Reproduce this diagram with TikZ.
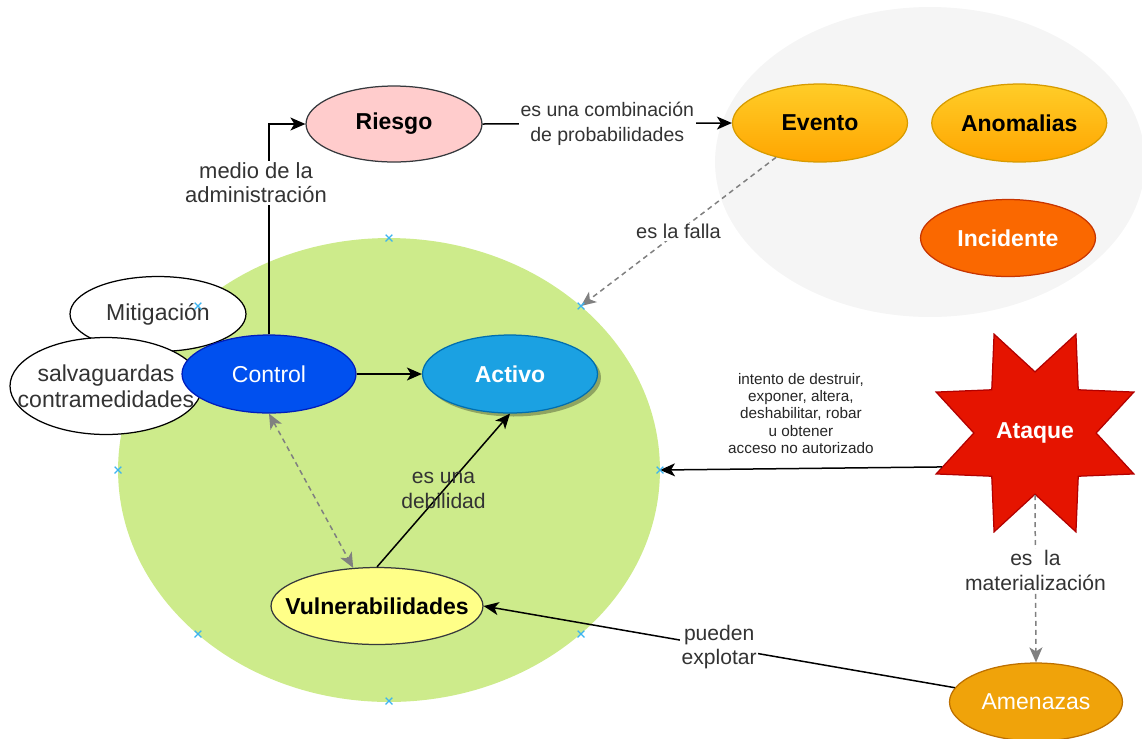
\documentclass[tikz,border=0pt]{standalone}
\usepackage{fontspec}
\setmainfont{Liberation Sans}
\usetikzlibrary{positioning,calc,shapes.geometric,shapes.misc,arrows.meta,shadows}
\definecolor{riesgopink}{RGB}{255, 204, 204}
\definecolor{darkborder}{RGB}{54, 57, 61}
\definecolor{eventotop}{RGB}{255, 205, 40}
\definecolor{eventobottom}{RGB}{255, 165, 0}
\definecolor{eventoborder}{RGB}{215, 155, 0}
\definecolor{incidenteorange}{RGB}{250, 104, 0}
\definecolor{incidenteborder}{RGB}{199, 53, 0}
\definecolor{controlblue}{RGB}{0, 80, 239}
\definecolor{controlborder}{RGB}{0, 29, 188}
\definecolor{activoblue}{RGB}{27, 161, 226}
\definecolor{activoborder}{RGB}{0, 110, 175}
\definecolor{vulnyellow}{RGB}{255, 255, 136}
\definecolor{ataquered}{RGB}{229, 20, 0}
\definecolor{ataqueborder}{RGB}{178, 0, 0}
\definecolor{amenazasorange}{RGB}{240, 163, 10}
\definecolor{amenazasborder}{RGB}{189, 112, 0}
\definecolor{zonegreen}{RGB}{205, 235, 139}
\definecolor{zonegray}{RGB}{245, 245, 245}
\definecolor{dashgray}{RGB}{128, 128, 128}
\definecolor{markblue}{RGB}{60, 180, 240}

\begin{document}
\begin{tikzpicture}[x=0.02cm, y=-0.02cm,
oval/.style={ellipse, line width=0.25mm, inner sep=0pt, align=center, minimum width=3.5cm, minimum height=1.56cm, font=\fontsize{13.1}{14.8}\selectfont},
white_oval/.style={oval, draw=black, fill=white, text=black!80},
bold_oval/.style={oval, font=\fontsize{13.1}{14.8}\selectfont\bfseries},
evento_node/.style={bold_oval, draw=eventoborder, top color=eventotop, bottom color=eventobottom},
zone_node/.style={ellipse, inner sep=0pt},
arrow/.style={-{Stealth[length=0.3cm, width=0.26cm, inset=0.08cm]}, line width=0.3mm},
dash_arrow/.style={arrow, draw=dashgray, dash pattern=on 0.1cm off 0.08cm},
dash_arrow_both/.style={dash_arrow, {Stealth[length=0.3cm, width=0.26cm, inset=0.08cm]}-{Stealth[length=0.3cm, width=0.26cm, inset=0.08cm]}},
edge_label/.style={fill=white, inner sep=1pt, align=center, text=black!80, font=\fontsize{12}{14}\selectfont},
small_label/.style={align=center, inner sep=1pt, text=black!85, font=\fontsize{8.7}{9.85}\selectfont},
conn_mark/.style={cross out, draw=markblue, line width=0.25mm, minimum size=0.11cm, inner sep=0pt}
]
\useasboundingbox (0,0) rectangle (1142,738);

%Zones
\node[zone_node, fill=zonegray, minimum width=8.6cm, minimum height=6.2cm] 	(event_zone) at (930,162) {};
\node[zone_node, fill=zonegreen, minimum width=10.84cm, minimum height=9.28cm] 	(zone) at (389,470) {};
\coordinate (zone_ne) at (581,306);
\coordinate (zone_e) at (660,470);

%Nodes top
\node[bold_oval, draw=darkborder, fill=riesgopink, minimum width=3.52cm, minimum height=1.52cm] 	(riesgo) at (394,124) {Riesgo};
\node[evento_node] 														(evento) at (820,123) {Evento};
\node[evento_node] 														(anomalias) [right=0.46cm of evento] {Anomalias};
\node[bold_oval, draw=incidenteborder, fill=incidenteorange, text=white, minimum height=1.54cm] 	(incidente) at (1008,238) {Incidente};

%Nodes left
\node[white_oval, minimum width=3.52cm, minimum height=1.5cm] 				(mitigacion) at (158,314) {Mitigación};
\node[white_oval, minimum width=3.84cm, minimum height=1.94cm, inner xsep=-0.5cm] 	(salvaguardas) at (106,386) {salvaguardas\\contramedidades};
\node[oval, draw=controlborder, fill=controlblue, text=white, minimum width=3.48cm] 	(control) at (269,374) {Control};
\node[bold_oval, draw=activoborder, fill=activoblue, text=white, drop shadow={shadow xshift=0.07cm, shadow yshift=-0.07cm, fill=black, opacity=0.3}] 	(activo) at (510,374) {Activo};
\node[bold_oval, draw=darkborder, fill=vulnyellow, minimum width=4.24cm, minimum height=1.54cm, inner xsep=-0.5cm] 	(vulnerabilidades) at (377,606) {Vulnerabilidades};

%Nodes right
\node[star, star points=8, star point ratio=1.75, shape border rotate=22.5, minimum size=4.28cm, inner sep=0pt, draw=ataqueborder, line width=0.25mm, fill=ataquered, text=white, font=\fontsize{13.1}{14.8}\selectfont\bfseries] 	(ataque) at (1035,433) {Ataque};
\node[oval, draw=amenazasborder, fill=amenazasorange, text=white, minimum width=3.46cm] 	(amenazas) at (1036,702) {Amenazas};

%Arrows
\draw[arrow] (control.north) |- node[edge_label, pos=0.36, xshift=-0.26cm, font=\fontsize{12.5}{13.7}\selectfont] {medio de la\\administración} (riesgo.west);
\draw[arrow] (riesgo.east) -- node[edge_label, font=\fontsize{11.1}{14.2}\selectfont] {es una combinación\\de probabilidades} (evento.west);
\draw[dash_arrow] (evento.218) -- node[edge_label, font=\fontsize{11.4}{13}\selectfont] {es la falla} (zone_ne);
\draw[arrow] (control.east) -- (activo.west);
\draw[dash_arrow_both] (control.south) -- (vulnerabilidades.122);
\draw[arrow] (vulnerabilidades.north) -- node[edge_label, fill=none] {es una\\debilidad} (activo.south);
\draw[arrow] (ataque.200) -- node[small_label, above=0.25cm] {intento de destruir,\\exponer, altera,\\deshabilitar, robar\\u obtener\\acceso no autorizado} (zone_e);
\draw[dash_arrow] (ataque.south) -- node[edge_label, pos=0.45] {es\ \ la\\materialización} (amenazas.north);
\draw[arrow] (amenazas.170) -- node[edge_label] {pueden\\explotar} (vulnerabilidades.east);

%Connection marks
\foreach \x/\y in {389/238, 581/306, 660/470, 581/634, 389/701, 198/634, 118/470, 198/306}
	\node[conn_mark] at (\x,\y) {};

\end{tikzpicture}
\end{document}
